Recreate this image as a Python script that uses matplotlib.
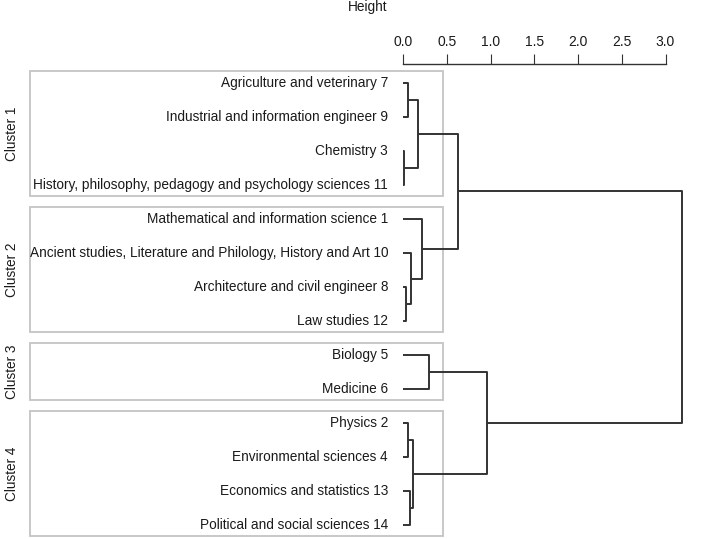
import numpy as np
import matplotlib.pyplot as plt
from matplotlib.patches import Rectangle

plt.rcParams['font.family'] = ['Liberation Sans', 'DejaVu Sans']

# ========== data ==========
leaf_labels = [
    'Agriculture and veterinary 7',
    'Industrial and information engineer 9',
    'Chemistry 3',
    'History, philosophy, pedagogy and psychology sciences 11',
    'Mathematical and information science 1',
    'Ancient studies, Literature and Philology, History and Art 10',
    'Architecture and civil engineer 8',
    'Law studies 12',
    'Biology 5',
    'Medicine 6',
    'Physics 2',
    'Environmental sciences 4',
    'Economics and statistics 13',
    'Political and social sciences 14',
]

# merges: (node a, node b, height); new node ids start at 14
merge_a = [0, 2, 14, 6, 5, 4, 16, 8, 10, 12, 22, 21, 20]
merge_b = [1, 3, 15, 7, 17, 18, 19, 9, 11, 13, 23, 24, 25]
merge_h = [0.06, 0.01, 0.17, 0.03, 0.09, 0.22, 0.63, 0.30, 0.06, 0.08, 0.11, 0.96, 3.19]

cluster_names = ['Cluster 1', 'Cluster 2', 'Cluster 3', 'Cluster 4']
cluster_first = [0, 4, 8, 10]
cluster_last = [3, 7, 9, 13]

height_ticks = [0.0, 0.5, 1.0, 1.5, 2.0, 2.5, 3.0]

# ========== figure ==========
W, H = 708, 539
fig = plt.figure(figsize=(W / 100, H / 100), dpi=100)
ax_top_px = 64
ax = fig.add_axes([0, 0, 1, (H - ax_top_px) / H])

px_per_unit = 87.5
x0_px = 403
ax.set_xlim(-x0_px / px_per_unit, (W - x0_px) / px_per_unit)
leaf0_px, leaf_step = 83, 34
ax.set_ylim((H - leaf0_px) / leaf_step, (ax_top_px - leaf0_px) / leaf_step)

line_kw = dict(color='#333333', lw=1.4, solid_capstyle='butt')
fs = 9.85

# node positions (y = leaf index, x = height)
pos = {i: (0.0, float(i)) for i in range(len(leaf_labels))}
for k, (a, b, h) in enumerate(zip(merge_a, merge_b, merge_h)):
    xa, ya = pos[a]
    xb, yb = pos[b]
    ax.plot([xa, h, h, xb], [ya, ya, yb, yb], **line_kw)
    pos[len(leaf_labels) + k] = (h, (ya + yb) / 2)

# leaf labels
for i, lab in enumerate(leaf_labels):
    ax.text(-0.17, i, lab, ha='right', va='center', fontsize=fs, color='#1a1a1a')

# cluster boxes
box_left = -4.26
box_right = 0.457
for name, f, l in zip(cluster_names, cluster_first, cluster_last):
    y_top = f - 0.35
    y_bot = l + 0.32
    ax.add_patch(Rectangle((box_left, y_top), box_right - box_left, y_bot - y_top,
                           fill=False, edgecolor='#c4c4c4', lw=1.3))
    ax.text(-4.47, (y_top + y_bot) / 2, name, rotation=90, ha='center', va='center',
            fontsize=fs, color='#1a1a1a')

# height axis on top
for s in ['left', 'right', 'bottom']:
    ax.spines[s].set_visible(False)
ax.spines['top'].set_bounds(0, 3)
ax.spines['top'].set_color('#333333')
ax.spines['top'].set_linewidth(1.0)
ax.xaxis.tick_top()
ax.set_xticks(height_ticks)
ax.set_xticklabels([f'{t:.1f}' for t in height_ticks])
ax.tick_params(axis='x', direction='out', length=7, pad=4, labelsize=10,
               colors='#333333', labelcolor='#1a1a1a')
ax.set_yticks([])

fig.text(368 / W, 1 - 7 / H, 'Height', ha='center', va='center', fontsize=fs, color='#1a1a1a')

fig.savefig('out.png', dpi=100)
